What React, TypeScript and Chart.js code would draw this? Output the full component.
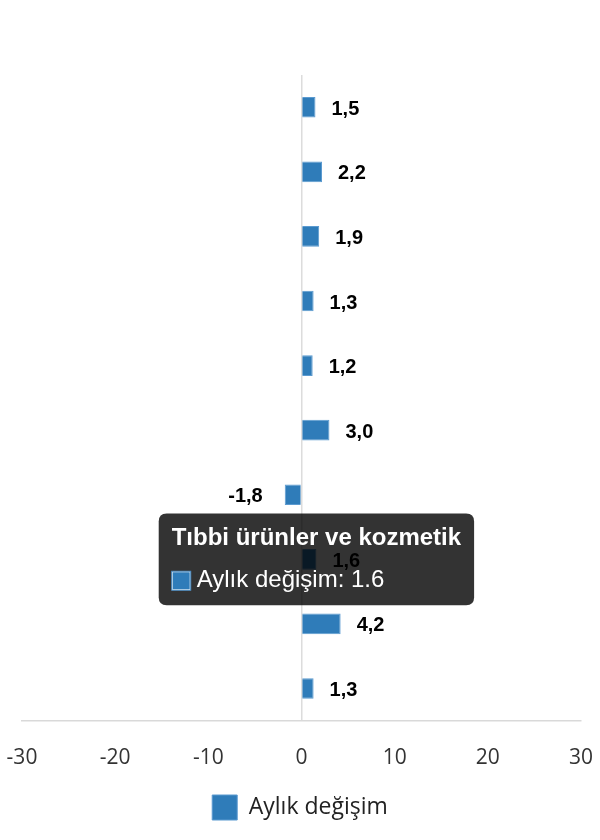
import React, { useEffect, useRef } from "react";
import { Chart, registerables } from "chart.js";

Chart.register(...registerables);

const categories: string[] = [
  "Gıda, içecek ve tütün",
  "Gıda dışı",
  "Otomotiv yakıtı",
  "Bilgisayar ve iletişim ekipmanları",
  "Tekstil, giyim ve ayakkabı",
  "Elektrikli eşya ve mobilya",
  "Posta yoluyla veya internet",
  "Tıbbi ürünler ve kozmetik",
  "Diğer gıda dışı",
  "Toplam",
];
const seriesName = "Aylık değişim";
const monthlyChange: number[] = [1.5, 2.2, 1.9, 1.3, 1.2, 3.0, -1.8, 1.6, 4.2, 1.3];
const xTicks: number[] = [-30, -20, -10, 0, 10, 20, 30];
const activeIndex = 7;

const BAR = "#2f7cb9";
const BAR_BORDER = "#5b9ad0";

const valueLabels = {
  id: "valueLabels",
  afterDatasetsDraw(chart: any) {
    const ctx = chart.ctx;
    const meta = chart.getDatasetMeta(0);
    ctx.save();
    ctx.font = "bold 20px 'Liberation Sans', Arial, sans-serif";
    ctx.fillStyle = "#000";
    ctx.textBaseline = "middle";
    meta.data.forEach((bar: any, i: number) => {
      const v = monthlyChange[i];
      const text = v.toFixed(1).replace(".", ",");
      if (v >= 0) {
        ctx.textAlign = "left";
        ctx.fillText(text, bar.x + 16, bar.y + 2);
      } else {
        ctx.textAlign = "right";
        ctx.fillText(text, bar.x - 22, bar.y + 2);
      }
    });
    ctx.restore();
  },
};

export default function App() {
  const ref = useRef<HTMLCanvasElement | null>(null);
  useEffect(() => {
    if (!ref.current) return;
    const chart = new Chart(ref.current, {
      type: "bar",
      data: {
        labels: categories,
        datasets: [
          {
            label: seriesName,
            data: monthlyChange,
            backgroundColor: BAR,
            borderColor: BAR_BORDER,
            borderWidth: 1,
            hoverBackgroundColor: BAR,
            hoverBorderColor: BAR_BORDER,
            barPercentage: 0.32,
            categoryPercentage: 1,
          },
        ],
      },
      options: {
        indexAxis: "y",
        animation: false,
        responsive: true,
        maintainAspectRatio: false,
        layout: { padding: { top: 75, bottom: 10, left: 0, right: 0 } },
        scales: {
          x: {
            min: -30,
            max: 30,
            afterBuildTicks(scale: any) {
              scale.ticks = xTicks.map((v) => ({ value: v }));
            },
            afterFit(scale: any) {
              scale.paddingLeft = 22;
              scale.paddingRight = 19;
              scale.height -= 15;
            },
            grid: {
              color: (c: any) => (c.tick && c.tick.value === 0 ? "#dcdcdc" : "rgba(0,0,0,0)"),
              lineWidth: 1.5,
              drawTicks: false,
            },
            border: { display: true, color: "#d9d9d9", width: 1.5 },
            ticks: {
              padding: 25,
              color: "#333",
              font: { family: "'Open Sans', sans-serif", size: 21 },
              callback: (v: any) => String(v),
            },
          },
          y: {
            display: false,
          },
        },
        plugins: {
          legend: {
            position: "bottom",
            labels: {
              boxWidth: 25,
              boxHeight: 25,
              color: "#222",
              padding: 14,
              font: { family: "'Open Sans', sans-serif", size: 23 },
            },
          },
          tooltip: {
            enabled: true,
            backgroundColor: "rgba(0,0,0,0.8)",
            xAlign: "center",
            yAlign: "center",
            caretSize: 0,
            cornerRadius: 8,
            padding: { x: 13, y: 10 },
            titleFont: { family: "'Liberation Sans', Arial, sans-serif", size: 24, weight: "bold" },
            bodyFont: { family: "'Liberation Sans', Arial, sans-serif", size: 24 },
            titleMarginBottom: 14,
            boxWidth: 19,
            boxHeight: 19,
            boxPadding: 4,
            callbacks: {
              label: (c: any) => `${c.dataset.label}: ${c.parsed.x}`,
              labelColor: () => ({ borderColor: "#4a8cc4", backgroundColor: BAR }),
            },
          },
        },
      },
      plugins: [valueLabels],
    });
    const meta = chart.getDatasetMeta(0);
    const el: any = meta.data[activeIndex];
    chart.tooltip!.setActiveElements([{ datasetIndex: 0, index: activeIndex }], { x: el.x, y: el.y });
    chart.update();
    return () => chart.destroy();
  }, []);
  return (
    <div style={{ position: "absolute", left: 0, top: 0, width: 600, height: 840, background: "#fff" }}>
      <canvas ref={ref} />
    </div>
  );
}
